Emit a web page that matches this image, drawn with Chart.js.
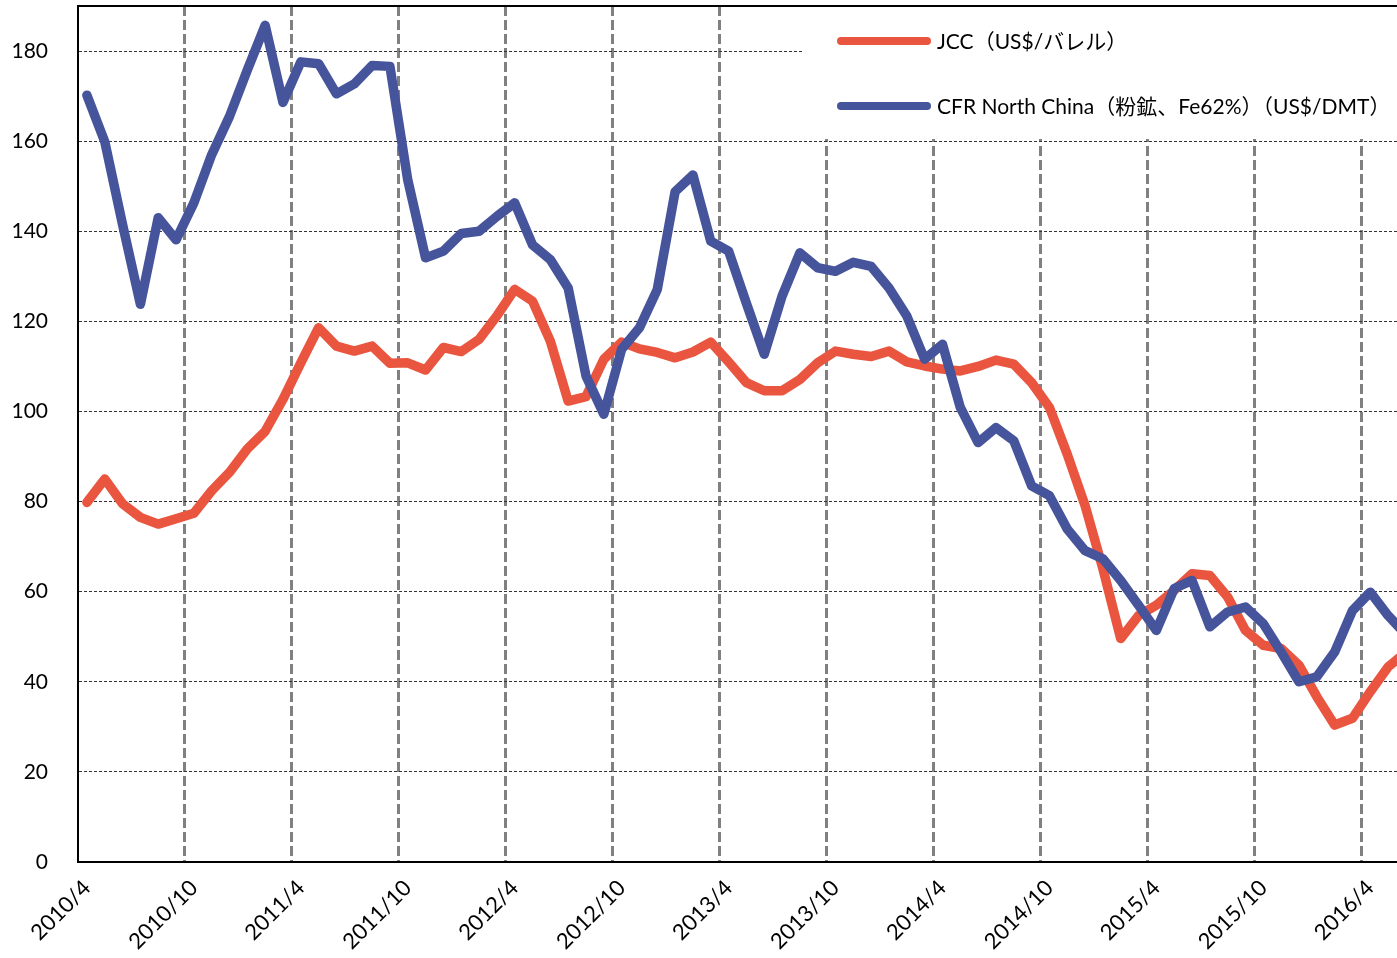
<!DOCTYPE html>
<html lang="ja">
<head>
<meta charset="utf-8">
<title>JCC / 鉄鉱石価格</title>
<script src="https://cdn.jsdelivr.net/npm/chart.js@4.4.1/dist/chart.umd.min.js"></script>
<style>
    html, body { margin: 0; padding: 0; background: #fff; }
    #wrap { width: 1397px; height: 958px; }
</style>
</head>
<body>
<div id="wrap"><canvas id="priceChart"></canvas></div>
<script>
// Monthly values from 2010/4 to 2016/6
const jccPrices = [
    79.8, 85.0, 79.5, 76.5, 75.0, 76.2, 77.4, 82.4, 86.5, 91.7, 95.6, 102.7,
    110.8, 118.6, 114.5, 113.4, 114.5, 110.7, 110.8, 109.2, 114.2, 113.3, 116.0, 121.2,
    127.1, 124.5, 115.6, 102.3, 103.3, 111.6, 115.4, 113.9, 113.1, 111.9, 113.2, 115.4,
    111.0, 106.4, 104.6, 104.6, 107.1, 110.8, 113.4, 112.7, 112.2, 113.4, 111.0, 110.1,
    109.4, 109.0, 110.0, 111.4, 110.5, 106.4, 100.9, 90.5, 79.1, 65.1, 49.6, 54.7,
    57.0, 60.3, 64.0, 63.6, 58.8, 51.4, 48.1, 47.4, 43.7, 36.7, 30.4, 31.9,
    37.8, 43.3, 46.5
];
const cfrPrices = [
    170.2, 159.9, 141.5, 123.8, 143.0, 138.1, 146.3, 157.0, 165.5, 175.8, 185.7, 168.6,
    177.6, 177.2, 170.5, 172.7, 176.8, 176.6, 151.4, 134.1, 135.6, 139.5, 140.0, 143.3,
    146.3, 137.0, 133.7, 127.4, 107.9, 99.4, 113.8, 118.6, 127.1, 148.8, 152.5, 137.8,
    135.6, 124.0, 112.7, 125.6, 135.2, 131.9, 131.1, 133.1, 132.2, 127.4, 121.2, 111.6,
    114.9, 100.9, 93.1, 96.4, 93.5, 83.5, 81.3, 73.9, 69.1, 67.3, 62.5, 57.0,
    51.4, 60.7, 62.5, 52.2, 55.5, 56.6, 52.9, 46.6, 40.0, 41.1, 46.6, 55.8,
    59.9, 54.7, 50.5
];

const seriesLabels = ['JCC（US$/バレル）', 'CFR North China（粉鉱、Fe62%）（US$/DMT）'];
const seriesColors = ['#E9553F', '#46549B'];
const yTickValues = [0, 20, 40, 60, 80, 100, 120, 140, 160, 180];

// month labels "YYYY/M", starting at 2010/4
const startYear = 2010;
const startMonth = 4;
const monthLabels = jccPrices.map((_, i) => {
    const m = startMonth - 1 + i;
    return `${startYear + Math.floor(m / 12)}/${(m % 12) + 1}`;
});
// a labelled gridline every six months
const xTickIndexes = monthLabels.map((_, i) => i).filter(i => i % 6 === 0);

const FONT = "Lato, 'Noto Sans CJK JP', sans-serif";
Chart.defaults.font.family = FONT;
Chart.defaults.color = '#000';

// each month is drawn in the middle of its slot
const toPoints = values => values.map((v, i) => ({ x: i + 0.5, y: v }));

// legend on a white panel in the top right corner of the plot, plus the plot frame
const legendPanel = {
    id: 'legendPanel',
    beforeDatasetsDraw(chart) {
        const { ctx, chartArea } = chart;
        const x0 = chartArea.right - 595;
        ctx.save();
        ctx.fillStyle = '#fff';
        ctx.fillRect(x0, chartArea.top + 1, chartArea.right - x0, 132);
        ctx.restore();
    },
    afterDatasetsDraw(chart) {
        const { ctx, chartArea } = chart;
        const x0 = chartArea.right - 595;
        ctx.save();
        ctx.font = `21px ${FONT}`;
        ctx.textBaseline = 'alphabetic';
        ctx.fillStyle = '#000';
        seriesLabels.forEach((label, i) => {
            const y = chartArea.top + 35 + i * 65;
            ctx.strokeStyle = seriesColors[i];
            ctx.lineWidth = 8;
            ctx.lineCap = 'round';
            ctx.beginPath();
            ctx.moveTo(x0 + 39, y);
            ctx.lineTo(x0 + 125, y);
            ctx.stroke();
            ctx.fillText(label, x0 + 135, y + 7.5);
        });
        ctx.restore();
    },
    afterDraw(chart) {
        const { ctx, chartArea } = chart;
        ctx.save();
        ctx.strokeStyle = '#000';
        ctx.lineWidth = 2;
        ctx.beginPath();
        ctx.moveTo(chartArea.left, chartArea.top);
        ctx.lineTo(chartArea.right, chartArea.top);
        ctx.stroke();
        ctx.restore();
    }
};

const ctx = document.getElementById('priceChart').getContext('2d');
const priceChart = new Chart(ctx, {
    type: 'line',
    data: {
        datasets: [
            {
                label: seriesLabels[0],
                data: toPoints(jccPrices),
                borderColor: seriesColors[0],
                order: 2
            },
            {
                label: seriesLabels[1],
                data: toPoints(cfrPrices),
                borderColor: seriesColors[1],
                order: 1
            }
        ]
    },
    options: {
        responsive: true,
        maintainAspectRatio: false,
        animation: false,
        layout: { padding: { top: 6, left: 0, right: 0, bottom: 0 } },
        elements: {
            line: { borderWidth: 9.5, tension: 0, borderJoinStyle: 'round', borderCapStyle: 'round', fill: false },
            point: { radius: 0, hoverRadius: 0 }
        },
        plugins: {
            legend: { display: false },
            tooltip: { enabled: false }
        },
        scales: {
            x: {
                type: 'linear',
                min: 0,
                max: 74,
                afterBuildTicks: scale => { scale.ticks = xTickIndexes.map(v => ({ value: v })); },
                afterFit: scale => { scale.height = 96; },
                ticks: {
                    autoSkip: false,
                    minRotation: 45,
                    maxRotation: 45,
                    padding: 13,
                    labelOffset: 9,
                    font: { size: 22 },
                    color: '#000',
                    callback: value => monthLabels[value]
                },
                grid: {
                    color: c => (c.tick && c.tick.value === 0 ? 'rgba(0,0,0,0)' : '#808080'),
                    lineWidth: 3,
                    drawTicks: false
                },
                border: { color: '#000', width: 2, dash: [10, 4] }
            },
            y: {
                min: 0,
                max: 190,
                afterBuildTicks: scale => { scale.ticks = yTickValues.map(v => ({ value: v })); },
                afterFit: scale => {
                    scale.width = 78;
                    // the label gap should not push the plot down
                    scale.paddingTop = 0;
                    scale.paddingBottom = 0;
                },
                ticks: {
                    padding: 30,
                    font: { size: 21 },
                    color: '#000'
                },
                grid: {
                    color: c => (c.tick && c.tick.value === 0 ? 'rgba(0,0,0,0)' : '#333'),
                    lineWidth: 1,
                    drawTicks: false
                },
                border: { color: '#000', width: 2, dash: [3, 2] }
            }
        }
    },
    plugins: [legendPanel]
});
</script>
</body>
</html>
